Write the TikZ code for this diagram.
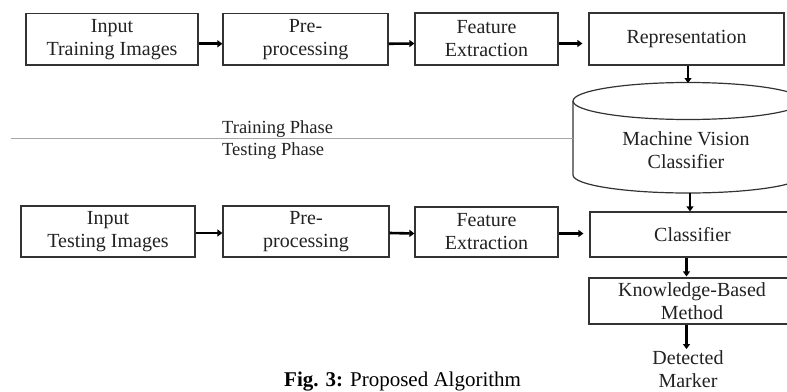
\documentclass[tikz,border=0pt]{standalone}
\usepackage{fontspec}
\setmainfont{Liberation Serif}
\usetikzlibrary{arrows.meta}
\definecolor{ink}{HTML}{222222}
\definecolor{edge}{HTML}{333333}
\begin{document}
\begin{tikzpicture}[x=1pt,y=-1pt,
  stepbox/.style={draw=edge,line width=1.2pt,inner sep=0pt,align=center,text=ink,
    font=\fontsize{20}{23}\selectfont},
  lbl/.style={inner sep=0pt,text=ink,align=center,font=\fontsize{20}{23}\selectfont},
  arr/.style={line width=2.6pt,black,-{Triangle[length=5pt,width=7pt]}},
]
\clip (0,0) rectangle (787,391);
\fill[white] (0,0) rectangle (787,391);
% training row
\node[stepbox,minimum width=172pt,minimum height=51.5pt] (t1) at (112,39.25) {Input\\Training Images};
\node[stepbox,minimum width=165pt,minimum height=51.5pt] (t2) at (305.5,39.25) {Pre-\\processing};
\node[stepbox,minimum width=143pt,minimum height=52pt] (t3) at (486.5,39) {Feature\\Extraction};
\node[stepbox,minimum width=195pt,minimum height=52pt] (rep) at (686.5,39) {Representation};
% cylinder
\coordinate (cyltop) at (688,83);
\coordinate (cylbot) at (690,193);
\draw[edge,line width=1.2pt,fill=white] (573,101) -- (573,175) arc[start angle=180,end angle=360,x radius=115pt,y radius=18pt] -- (803,101);
\draw[edge,line width=1.2pt] (688,101) ellipse[x radius=115pt,y radius=18.5pt];
\node[lbl] (mvc) at (686,150) {Machine Vision\\Classifier};
% phase separator
\coordinate (sepL) at (11,138);
\coordinate (sepR) at (573,138);
\draw[gray!70,line width=1pt] (sepL) -- (sepR);
\node[inner sep=0pt,text=ink,anchor=base west,font=\fontsize{18.5}{22}\selectfont] (trp) at (222,133) {Training Phase};
\node[inner sep=0pt,text=ink,anchor=base west,font=\fontsize{18.5}{22}\selectfont] (tsp) at (222,155) {Testing Phase};
% testing row
\node[stepbox,minimum width=174pt,minimum height=51pt] (b1) at (108,231.5) {Input\\Testing Images};
\node[stepbox,minimum width=166pt,minimum height=51pt] (b2) at (306,231.5) {Pre-\\processing};
\node[stepbox,minimum width=143pt,minimum height=50pt] (b3) at (486.5,232) {Feature\\Extraction};
\node[stepbox,minimum width=205pt,minimum height=45pt] (cls) at (692.5,234.5) {Classifier};
\node[stepbox,minimum width=206pt,minimum height=46pt] (kb) at (692,301) {Knowledge-Based\\Method};
\node[lbl,anchor=north] (det) at (688,350) {Detected\\Marker};
% caption
\node[inner sep=0pt,text=black,anchor=base west,font=\fontsize{21}{24}\selectfont] (cap) at (284,386) {\textbf{Fig. 3:} Proposed Algorithm};
% arrows
\draw[arr] ([yshift=-4.5pt]t1.east) -- ([yshift=-4.5pt]t2.west);
\draw[arr] ([yshift=-4.5pt]t2.east) -- ([yshift=-4.5pt]t3.west);
\draw[arr,shorten >=6pt] ([yshift=-4.5pt]t3.east) -- ([yshift=-4.5pt]rep.west);
\draw[arr] (rep.south -| cyltop) -- (cyltop);
\draw[arr] (cylbot) -- (cylbot |- cls.north);
\draw[arr] ([yshift=-1.5pt]b1.east) -- ([yshift=-1.5pt]b2.west);
\draw[arr] ([yshift=-1.5pt]b2.east) -- ([yshift=-1.5pt]b3.west);
\draw[arr,shorten >=6pt] ([yshift=-1.5pt]b3.east) -- ([yshift=-1.5pt]b3.east -| cls.west);
\draw[arr,shorten >=1pt] (cls.south -| rep.south) -- (kb.north -| rep.south);
\draw[arr,shorten >=1pt] (kb.south -| rep.south) -- (det.north -| rep.south);
\end{tikzpicture}
\end{document}
